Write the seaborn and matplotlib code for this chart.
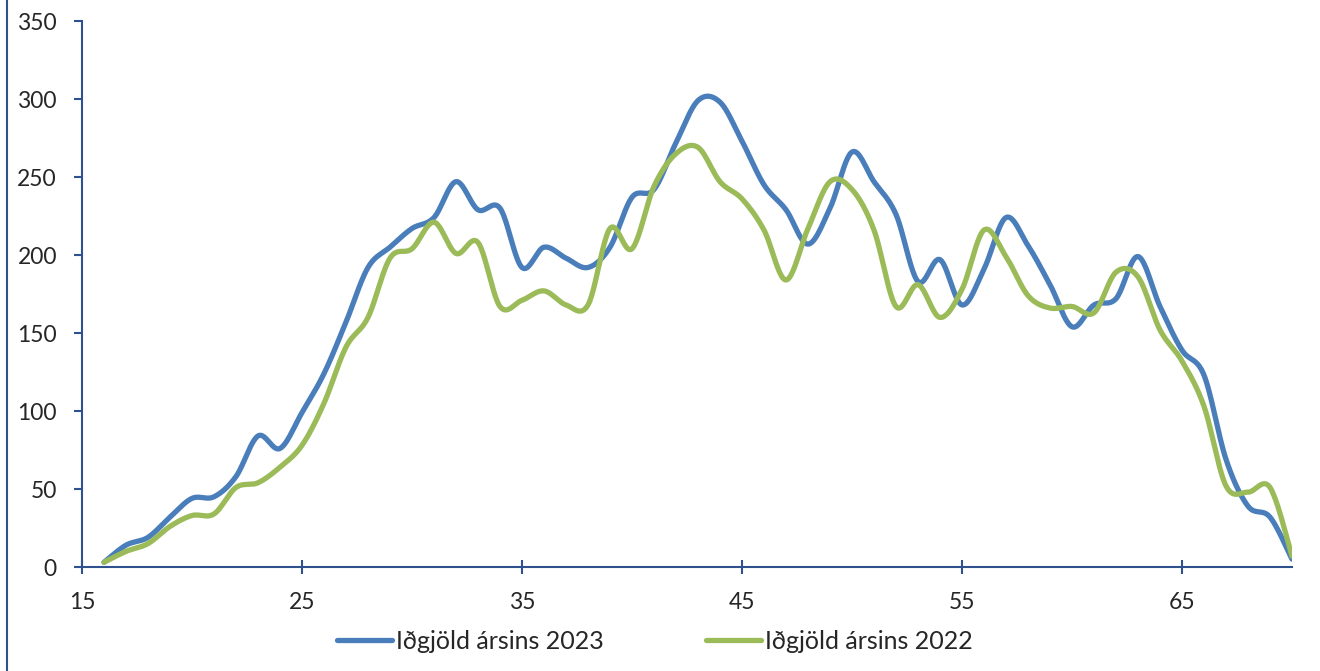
import numpy as np
import pandas as pd
import matplotlib
matplotlib.use("Agg")
import matplotlib.pyplot as plt
import seaborn as sns
from matplotlib.lines import Line2D

# aldur (age) og iðgjöld, lesið af myndinni
ages = list(range(16, 71))
idgjold_2023 = [3, 14, 19, 32, 44, 45, 58, 84, 76, 99,
                124, 157, 192, 205, 217, 224, 247, 229, 230, 192,
                205, 198, 192, 205, 237, 242, 272, 299, 298, 273,
                245, 229, 207, 230, 266, 247, 226, 183, 197, 168,
                191, 224, 206, 181, 154, 168, 172, 199, 167, 139,
                123, 69, 39, 32, 5]
idgjold_2022 = [3, 10, 15, 26, 33, 34, 51, 54, 64, 78,
                105, 141, 160, 198, 204, 221, 201, 208, 167, 171,
                177, 168, 168, 217, 204, 244, 265, 269, 247, 236,
                216, 184, 217, 247, 242, 216, 167, 181, 160, 178,
                216, 199, 174, 166, 167, 163, 189, 186, 152, 132,
                103, 52, 48, 51, 7]
series_names = ["Iðgjöld ársins 2023", "Iðgjöld ársins 2022"]
xticks = [15, 25, 35, 45, 55, 65]
yticks = [0, 50, 100, 150, 200, 250, 300, 350]

BLUE = "#4A7EBB"
GREEN = "#9BBB59"
NAVY = "#2F528F"


def smooth(x, y, n=24):
    # Excel-like smoothed line: cubic bezier through the points (Catmull-Rom)
    x = np.asarray(x, float)
    y = np.asarray(y, float)
    px = np.concatenate([[x[0]], x, [x[-1]]])
    py = np.concatenate([[y[0]], y, [y[-1]]])
    t = np.linspace(0, 1, n, endpoint=False)[:, None]
    xs, ys = [], []
    for i in range(1, len(px) - 2):
        p0 = np.array([px[i], py[i]])
        p3 = np.array([px[i + 1], py[i + 1]])
        p1 = p0 + (p3 - np.array([px[i - 1], py[i - 1]])) / 6
        p2 = p3 - (np.array([px[i + 2], py[i + 2]]) - p0) / 6
        seg = ((1 - t) ** 3) * p0 + 3 * ((1 - t) ** 2) * t * p1 \
            + 3 * (1 - t) * t ** 2 * p2 + t ** 3 * p3
        xs.append(seg[:, 0])
        ys.append(seg[:, 1])
    xs.append([x[-1]])
    ys.append([y[-1]])
    return np.concatenate(xs), np.concatenate(ys)


sns.set_style("white")
plt.rcParams['font.family'] = ['Lato', 'DejaVu Sans']

fig = plt.figure(figsize=(13.2, 6.71), dpi=100)
ax = fig.add_axes([82 / 1320, 1 - 567 / 671, 1210 / 1320, 546 / 671])

for vals, col in [(idgjold_2023, BLUE), (idgjold_2022, GREEN)]:
    sx, sy = smooth(ages, vals)
    df = pd.DataFrame({"x": sx, "y": sy})
    sns.lineplot(data=df, x="x", y="y", ax=ax, color=col, linewidth=3.8,
                 sort=False, estimator=None, solid_capstyle="round")

ax.set_xlim(15, 70)
ax.set_ylim(0, 350)
ax.set_xticks(xticks)
ax.set_yticks(yticks)
ax.set_xlabel("")
ax.set_ylabel("")
for s in ["top", "right"]:
    ax.spines[s].set_visible(False)
for s in ["left", "bottom"]:
    ax.spines[s].set_color(NAVY)
    ax.spines[s].set_linewidth(1.5)
ax.tick_params(axis="y", direction="out", length=6, width=1.5, color=NAVY,
               pad=12, labelsize=16.5, left=True)
ax.tick_params(axis="x", direction="inout", length=10, width=1.5, color=NAVY,
               pad=13, labelsize=16.5, bottom=True)

handles = [Line2D([], [], color=BLUE, lw=3.8, solid_capstyle="round"),
           Line2D([], [], color=GREEN, lw=3.8, solid_capstyle="round")]
fig.legend(handles, series_names, loc="center", bbox_to_anchor=(0.496, 0.044),
           ncol=2, frameon=False, fontsize=18, handlelength=2.2,
           handletextpad=0.16, columnspacing=4.1)

# left frame edge of the chart area
fig.add_artist(Line2D([7 / 1320, 7 / 1320], [0, 1], color=NAVY, lw=1.5,
                      transform=fig.transFigure))

fig.savefig("out.png", dpi=100)
